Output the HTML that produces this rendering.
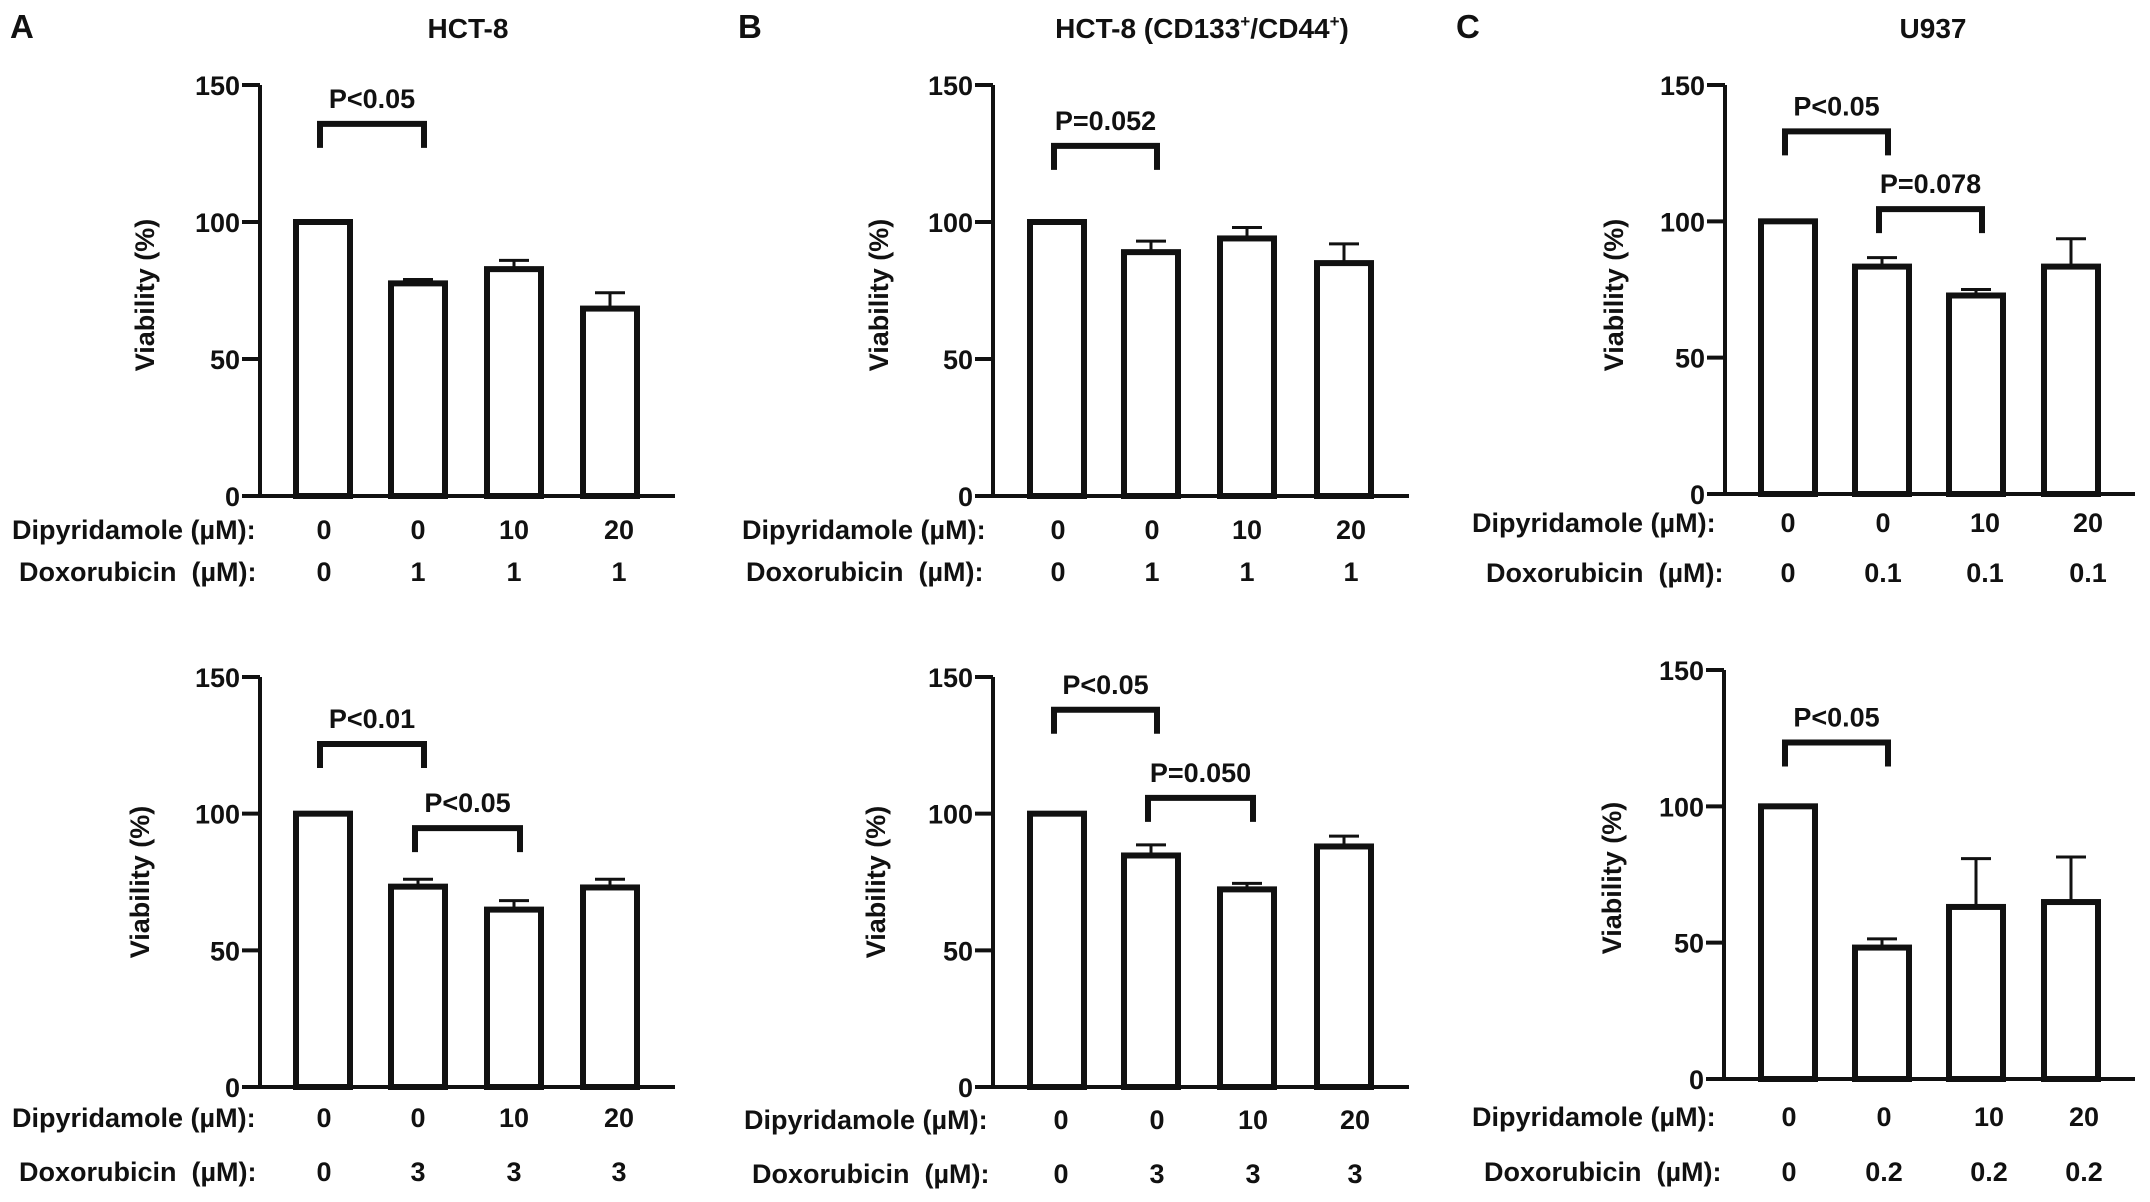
<!DOCTYPE html>
<html><head><meta charset="utf-8"><style>
html,body{margin:0;padding:0;background:#fff}
svg{display:block}
text{font-family:"Liberation Sans",Arial,sans-serif;font-weight:bold;fill:#111}
.pre{white-space:pre}
</style></head><body>
<svg id="fig" width="2150" height="1202" viewBox="0 0 2150 1202" xmlns="http://www.w3.org/2000/svg">
<text x="10" y="38" font-size="33">A</text>
<text x="738" y="38" font-size="33">B</text>
<text x="1456" y="38" font-size="33">C</text>
<text x="468" y="38" font-size="28" text-anchor="middle">HCT-8</text>
<text x="1202" y="38" font-size="28" text-anchor="middle">HCT-8 (CD133<tspan font-size="17" dy="-11">+</tspan><tspan dy="11">/CD44</tspan><tspan font-size="17" dy="-11">+</tspan><tspan dy="11">)</tspan></text>
<text x="1933" y="38" font-size="28" text-anchor="middle">U937</text>
</svg>
<script>
// ---- data ----
const dipyridamole = ["0","0","10","20"];
const doxA1 = ["0","1","1","1"];
const doxA2 = ["0","3","3","3"];
const doxC1 = ["0","0.1","0.1","0.1"];
const doxC2 = ["0","0.2","0.2","0.2"];
const yTicks = [0,50,100,150];

const aTopValues = [100,77.6,82.8,68.4];
const aTopErrors = [0,1.4,3.2,5.8];
const aBotValues = [100,73.3,64.9,73];
const aBotErrors = [0,2.7,3.3,3];
const bTopValues = [100,89,94,85];
const bTopErrors = [0,4,4,7];
const bBotValues = [100,84.7,72.3,88];
const bBotErrors = [0,3.9,2.2,3.8];
const cTopValues = [100,83.4,72.8,83.4];
const cTopErrors = [0,3.3,2.2,10.2];
const cBotValues = [100,48.2,63.1,64.9];
const cBotErrors = [0,3.2,17.7,16.5];

// brackets: [fromIndex, toIndex, value, label]
const aTopBrackets = [[0,1,135.8,"P<0.05"]];
const aBotBrackets = [[0,1,125.5,"P<0.01"],[1,2,94.7,"P<0.05"]];
const bTopBrackets = [[0,1,127.8,"P=0.052"]];
const bBotBrackets = [[0,1,138,"P<0.05"],[1,2,105.8,"P=0.050"]];
const cTopBrackets = [[0,1,133,"P<0.05"],[1,2,104.5,"P=0.078"]];
const cBotBrackets = [[0,1,123.4,"P<0.05"]];

// ---- layout ----
const panels = [
 {id:"a-top",vals:aTopValues,errs:aTopErrors,br:aTopBrackets,dox:doxA1,ax:260,end:675,y0:496,y150:85,cx:[323,418,514,610],lx:[324,418,514,619],dipY:539,doxY:581,dipX:12,doxX:19,tx:145,ty:295},
 {id:"a-bottom",vals:aBotValues,errs:aBotErrors,br:aBotBrackets,dox:doxA2,ax:260,end:675,y0:1087,y150:677,cx:[323,418,514,610],lx:[324,418,514,619],dipY:1127,doxY:1181,dipX:12,doxX:19,tx:140,ty:882},
 {id:"b-top",vals:bTopValues,errs:bTopErrors,br:bTopBrackets,dox:doxA1,ax:993,end:1409,y0:496,y150:85,cx:[1057,1151,1247,1344],lx:[1058,1152,1247,1351],dipY:539,doxY:581,dipX:742,doxX:746,tx:879,ty:295},
 {id:"b-bottom",vals:bBotValues,errs:bBotErrors,br:bBotBrackets,dox:doxA2,ax:993,end:1409,y0:1087,y150:677,cx:[1057,1151,1247,1344],lx:[1061,1157,1253,1355],dipY:1129,doxY:1183,dipX:744,doxX:752,tx:876,ty:882},
 {id:"c-top",vals:cTopValues,errs:cTopErrors,br:cTopBrackets,dox:doxC1,ax:1725,end:2135,y0:494,y150:85,cx:[1788,1882,1976,2071],lx:[1788,1883,1985,2088],dipY:532,doxY:582,dipX:1472,doxX:1486,tx:1614,ty:295},
 {id:"c-bottom",vals:cBotValues,errs:cBotErrors,br:cBotBrackets,dox:doxC2,ax:1724,end:2135,y0:1079,y150:670,cx:[1788,1882,1976,2071],lx:[1789,1884,1989,2084],dipY:1126,doxY:1181,dipX:1472,doxX:1484,tx:1612,ty:878}
];

const NS="http://www.w3.org/2000/svg";
const svg=document.getElementById("fig");
function mk(tag,attrs,parent){const e=document.createElementNS(NS,tag);for(const k in attrs)e.setAttribute(k,attrs[k]);(parent||svg).appendChild(e);return e;}

panels.forEach(p=>{
  const g=mk("g",{});
  
  
  const yS=v=>p.y0-(p.y0-p.y150)*v/150;
  const BW=54, SW=6;
  p.vals.forEach((v,i)=>{
    const r=mk("rect",{x:p.cx[i]-BW/2,y:yS(v),width:BW,height:p.y0-yS(v),fill:"#fff",stroke:"#111","stroke-width":SW},g);
    
    
    const e=p.errs[i];
    if(e>0){
      const eb=mk("path",{d:`M${p.cx[i]} ${yS(v)} V${yS(v+e)} M${p.cx[i]-15} ${yS(v+e)} H${p.cx[i]+15}`,stroke:"#111","stroke-width":3,fill:"none"},g);
      
      
    }
  });
  const ya=mk("path",{d:`M${p.ax} ${p.y150} V${p.y0}`,stroke:"#111","stroke-width":4,fill:"none"},g);
  
  
  const xa=mk("path",{d:`M${p.ax-18} ${p.y0} H${p.end}`,stroke:"#111","stroke-width":4,fill:"none"},g);
  
  
  yTicks.forEach(t=>{
    const tk=mk("path",{d:`M${p.ax-18} ${yS(t)} H${p.ax}`,stroke:"#111","stroke-width":4},g);
    
    
    const tl=mk("text",{x:p.ax-20,y:yS(t)+10,"font-size":27,"text-anchor":"end"},g);
    tl.textContent=t;
    
    
  });
  const yt=mk("text",{x:p.tx,y:p.ty,"font-size":27,"text-anchor":"middle",transform:`rotate(-90 ${p.tx} ${p.ty})`,dy:9},g);
  yt.textContent="Viability (%)";
  
  
  p.br.forEach(b=>{
    const x1=p.cx[b[0]]-3, x2=p.cx[b[1]]+6, y=yS(b[2]);
    const bp=mk("path",{d:`M${x1} ${y+24} V${y} H${x2} V${y+24}`,stroke:"#111","stroke-width":6,fill:"none"},g);
    
    
    const bt=mk("text",{x:(x1+x2)/2,y:y-16,"font-size":27,"text-anchor":"middle"},g);
    bt.textContent=b[3];
    
    
  });
  const dl=mk("text",{x:p.dipX,y:p.dipY,"font-size":27},g);
  dl.textContent="Dipyridamole (µM):";
  
  
  const xl=mk("text",{x:p.doxX,y:p.doxY,"font-size":27,"class":"pre"},g);
  xl.textContent="Doxorubicin  (µM):";
  
  
  dipyridamole.forEach((c,i)=>{
    const t=mk("text",{x:p.lx[i],y:p.dipY,"font-size":27,"text-anchor":"middle"},g);
    t.textContent=c;
    
    
  });
  p.dox.forEach((c,i)=>{
    const t=mk("text",{x:p.lx[i],y:p.doxY,"font-size":27,"text-anchor":"middle"},g);
    t.textContent=c;
    
    
  });
});
</script>
</body></html>
